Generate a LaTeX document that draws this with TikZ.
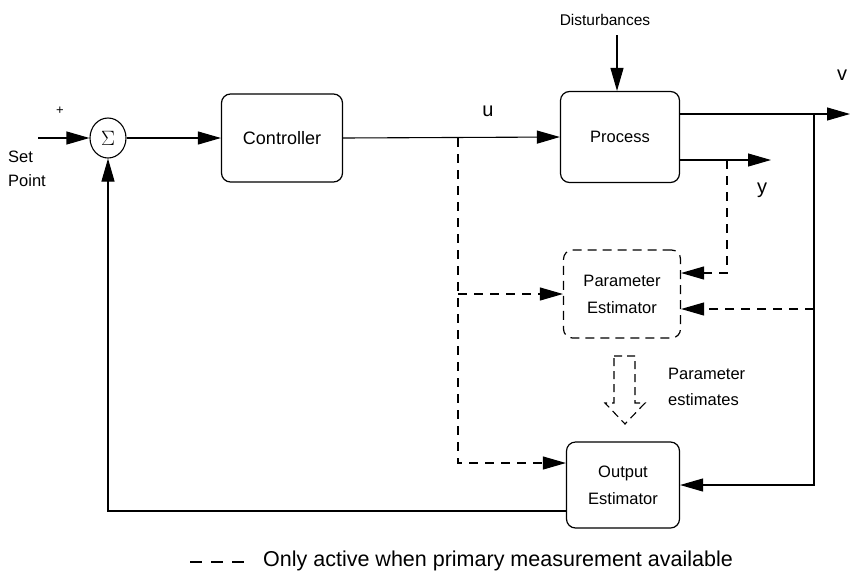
\documentclass[tikz,border=0pt]{standalone}
\usepackage{fontspec}
\setmainfont{Liberation Sans}
\usetikzlibrary{arrows.meta,shapes.geometric,calc}
\tikzset{
  blk/.style={draw,rounded corners=9pt,line width=1.2pt,align=center,font=\fontsize{16.5}{27}\selectfont},
  dblk/.style={blk,dash pattern=on 9pt off 6pt},
  sig/.style={line width=1.1pt,-{Triangle[length=23pt,width=13pt]}},
  line/.style={line width=1.1pt},
  dsig/.style={sig,dash pattern=on 9pt off 7pt},
  lbl/.style={inner sep=0pt,font=\fontsize{16.5}{20}\selectfont},
}
\begin{document}
\begin{tikzpicture}[x=1pt,y=-1pt]
\useasboundingbox (0,0) rectangle (850,584);
% blocks
\node[draw,ellipse,line width=1.1pt,minimum width=36pt,minimum height=40pt,inner sep=0pt,font=\fontsize{20}{20}\selectfont] (sum) at (108,138) {$\Sigma$};
\node[blk,minimum width=121pt,minimum height=88pt,font=\fontsize{18}{22}\selectfont] (ctrl) at (282,138) {Controller};
\node[blk,minimum width=119pt,minimum height=91pt] (proc) at (620,137) {Process};
\node[dblk,minimum width=117pt,minimum height=88pt] (pe) at (622,294) {Parameter\\Estimator};
\node[blk,minimum width=113pt,minimum height=86pt] (oe) at (623,485) {Output\\Estimator};
% labels
\node[lbl,font=\fontsize{15.5}{18}\selectfont] (dist) at (605,20) {Disturbances};
\node[lbl,align=left,anchor=west] (sptxt) at (8,169) {Set\\[4pt]Point};
\node[lbl,font=\fontsize{13}{14}\selectfont] (plus) at (60,111) {+};
\node[lbl,font=\fontsize{20}{20}\selectfont] (ulbl) at (488,111) {u};
\node[lbl,font=\fontsize{20}{20}\selectfont] (vlbl) at (842,75) {v};
\node[lbl,font=\fontsize{20}{20}\selectfont] (ylbl) at (762,190) {y};
\node[lbl,align=left,anchor=west] (petxt) at (668,387) {Parameter\\[6pt]estimates};
\node[lbl,anchor=west,font=\fontsize{21.5}{24}\selectfont] (legtxt) at (263,561) {Only active when primary measurement available};
% coordinates
\coordinate (spin) at (38,138);
\coordinate (vend) at (850,114);
\coordinate (yend) at (771,160);
\coordinate (jv) at (814,114);
\coordinate (jy) at (727,160);
\coordinate (ju) at (458,138);
\coordinate (dtop) at (617,35);
\coordinate (fb) at ($(oe.west)+(0,26)$);
\coordinate (peR1) at ($(pe.east)+(0,-21)$);
\coordinate (peR2) at ($(pe.east)+(0,15)$);
\coordinate (oeL) at ($(oe.west)+(0,-22)$);
\coordinate (legA) at (190,562);
\coordinate (legB) at (245,562);
% solid connectors
\draw[sig] (spin) -- (sum.west);
\draw[sig] (sum.east) -- (ctrl.west);
\draw[sig] (ctrl.east) -- (proc.west);
\draw[sig] (dtop) -- (dtop |- proc.north);
\draw[sig] (vend -| proc.east) -- (vend);
\draw[sig] (yend -| proc.east) -- (yend);
\draw[sig] (jv) -- (jv |- oe.east) -- (oe.east);
\draw[sig] (fb) -- (fb -| sum.south) -- (sum.south);
% dashed connectors
\draw[dsig] (jy) -- (jy |- peR1) -- (peR1);
\draw[dsig] (jv |- peR2) -- (peR2);
\draw[dsig] (ju |- pe.west) -- (pe.west);
\draw[dsig] (ju) -- (ju |- oeL) -- (oeL);
% hollow dashed arrow: parameter estimates
\draw[line width=1.1pt,dash pattern=on 8pt off 5pt]
  (614,356) -- (635,356) -- (635,403) -- (645,403) -- (625,424) -- (605,403) -- (614,403) -- cycle;
% legend
\draw[line width=1.1pt,dash pattern=on 12pt off 9pt] (legA) -- (legB);
\end{tikzpicture}
\end{document}
